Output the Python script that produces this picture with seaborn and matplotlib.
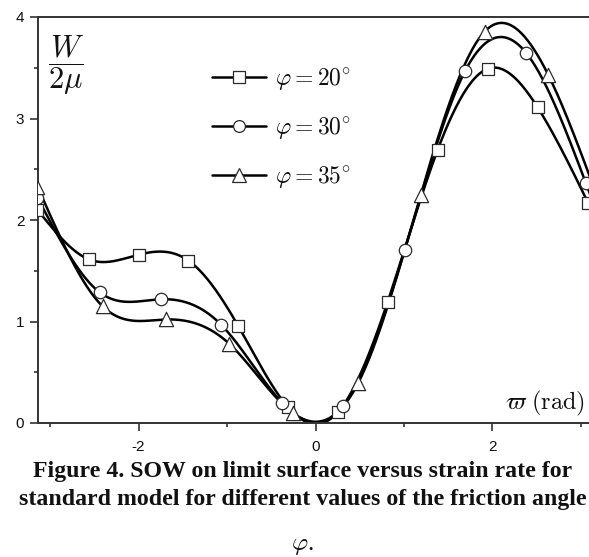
import numpy as np
import pandas as pd
import matplotlib
matplotlib.use("Agg")
import matplotlib.pyplot as plt
from matplotlib.lines import Line2D
from matplotlib.ticker import MultipleLocator
import seaborn as sns

# ---------------- data ----------------
x_20 = [-3.1416, -2.564, -2.000, -1.436, -0.876, -0.310, 0.256, 0.816, 1.380, 1.944, 2.510, 3.080]
y_20 = [2.10, 1.613, 1.658, 1.600, 0.960, 0.155, 0.110, 1.195, 2.690, 3.490, 3.110, 2.170]

x_30 = [-3.1416, -2.440, -1.748, -1.064, -0.376, 0.312, 1.007, 1.692, 2.377, 3.057]
y_30 = [2.22, 1.288, 1.219, 0.966, 0.197, 0.167, 1.700, 3.470, 3.650, 2.360]

x_35 = [-3.1416, -2.406, -1.684, -0.974, -0.250, 0.480, 1.190, 1.910, 2.630, 3.1416]
y_35 = [2.33, 1.150, 1.020, 0.780, 0.095, 0.390, 2.250, 3.855, 3.430, 2.330]
mark_35 = [True, True, True, True, True, True, True, True, True, False]

series_labels = [r"$\varphi = 20^{\circ}$", r"$\varphi = 30^{\circ}$", r"$\varphi = 35^{\circ}$"]
series_markers = ["s", "o", "^"]
x_major_ticks = [-2, 0, 2]
x_minor_ticks = [-3, -1, 1, 3]
y_major_ticks = [0, 1, 2, 3, 4]
caption_1 = "Figure 4. SOW on limit surface versus strain rate for"
caption_2 = "standard model for different values of the friction angle"


def natural_spline(x, y, xs):
    x = np.asarray(x, float)
    y = np.asarray(y, float)
    n = len(x)
    h = np.diff(x)
    A = np.zeros((n, n))
    b = np.zeros(n)
    A[0, 0] = 1.0
    A[-1, -1] = 1.0
    for i in range(1, n - 1):
        A[i, i - 1] = h[i - 1]
        A[i, i] = 2 * (h[i - 1] + h[i])
        A[i, i + 1] = h[i]
        b[i] = 6 * ((y[i + 1] - y[i]) / h[i] - (y[i] - y[i - 1]) / h[i - 1])
    M = np.linalg.solve(A, b)
    idx = np.clip(np.searchsorted(x, xs) - 1, 0, n - 2)
    x0, x1 = x[idx], x[idx + 1]
    hh = x1 - x0
    a = (x1 - xs) / hh
    c = (xs - x0) / hh
    return (a * y[idx] + c * y[idx + 1]
            + ((a ** 3 - a) * M[idx] + (c ** 3 - c) * M[idx + 1]) * hh ** 2 / 6.0)


sns.set_theme(style="ticks")
plt.rcParams["font.family"] = ["Liberation Sans", "DejaVu Sans"]
plt.rcParams["mathtext.fontset"] = "cm"
plt.rcParams["axes.unicode_minus"] = False

W, H = 589, 557
fig = plt.figure(figsize=(W / 100, H / 100), dpi=100)
fig.patch.set_facecolor("white")
ax = fig.add_axes([37.5 / W, 134 / H, 556 / W, 406 / H])
ax.set_facecolor("white")

medge = "#2a2a2a"

series = [(x_20, y_20, None), (x_30, y_30, None), (x_35, y_35, mark_35)]
for (xv, yv, mk), lab, m in zip(series, series_labels, series_markers):
    xs = np.linspace(xv[0], np.pi, 600)
    ys = natural_spline(xv, yv, xs)
    dfl = pd.DataFrame({"x": xs, "y": ys})
    sns.lineplot(data=dfl, x="x", y="y", ax=ax, color="black", lw=1.8,
                 sort=False, estimator=None, zorder=2)
    dfm = pd.DataFrame({"x": xv, "y": yv})
    if mk is not None:
        dfm = dfm[np.array(mk)]
    msize = 80 if m != "^" else 105
    sns.scatterplot(data=dfm, x="x", y="y", ax=ax, marker=m, s=msize,
                    facecolor="white", edgecolor=medge, linewidth=0.9,
                    zorder=3, clip_on=True)

ax.set_xlim(-np.pi, np.pi)
ax.set_ylim(0, 4)
ax.set_xlabel("")
ax.set_ylabel("")
ax.set_xticks(x_major_ticks)
ax.set_xticks(x_minor_ticks, minor=True)
ax.set_yticks(y_major_ticks)
ax.yaxis.set_minor_locator(MultipleLocator(0.5))
ax.set_xticklabels([str(v) for v in x_major_ticks])
ax.set_yticklabels([str(v) for v in y_major_ticks])

for s in ["left", "bottom", "top", "right"]:
    ax.spines[s].set_visible(True)
    ax.spines[s].set_color("#333333")
    ax.spines[s].set_linewidth(1.4)

ax.tick_params(axis="both", which="major", direction="out", length=5.5,
               width=1.2, colors="#333333", labelcolor="#111111", labelsize=11)
ax.tick_params(axis="both", which="minor", direction="out", length=3,
               width=1.2, colors="#333333")
ax.tick_params(axis="x", which="major", pad=7)
ax.tick_params(axis="y", which="major", pad=4)
ax.tick_params(top=False, right=False, which="both")

handles = [Line2D([], [], color="black", lw=1.8, marker=m, ms=8.5 if m != "^" else 9.5,
                  mfc="white", mec=medge, mew=0.9) for m in series_markers]
leg = ax.legend(handles, series_labels, loc="upper left",
                bbox_to_anchor=(212 / W, (H - 66) / H), bbox_transform=fig.transFigure,
                frameon=False, fontsize=17, handlelength=2.3, handletextpad=0.35,
                labelspacing=0.98, borderpad=0, borderaxespad=0)
for t in leg.get_texts():
    t.set_color("#111111")

fig.text(66 / W, (H - 65) / H, r"$\dfrac{W}{2\mu}$", ha="center", va="center",
         fontsize=22, color="#111111")
fig.text(585 / W, (H - 403) / H, r"$\varpi\ (\mathrm{rad})$", ha="right",
         va="center", fontsize=17.5, color="#111111")

cap_font = ["Liberation Serif", "DejaVu Serif"]
fig.text(303 / W, (H - 477) / H, caption_1, ha="center", va="baseline",
         fontsize=17.2, fontweight="bold", family=cap_font, color="#111111")
fig.text(303 / W, (H - 505) / H, caption_2, ha="center", va="baseline",
         fontsize=17.2, fontweight="bold", family=cap_font, color="#111111")
fig.text(302 / W, (H - 550) / H, r"$\varphi$.", ha="center", va="baseline",
         fontsize=18, family=cap_font, color="#111111")

fig.savefig("out.png", dpi=100, facecolor="white")
